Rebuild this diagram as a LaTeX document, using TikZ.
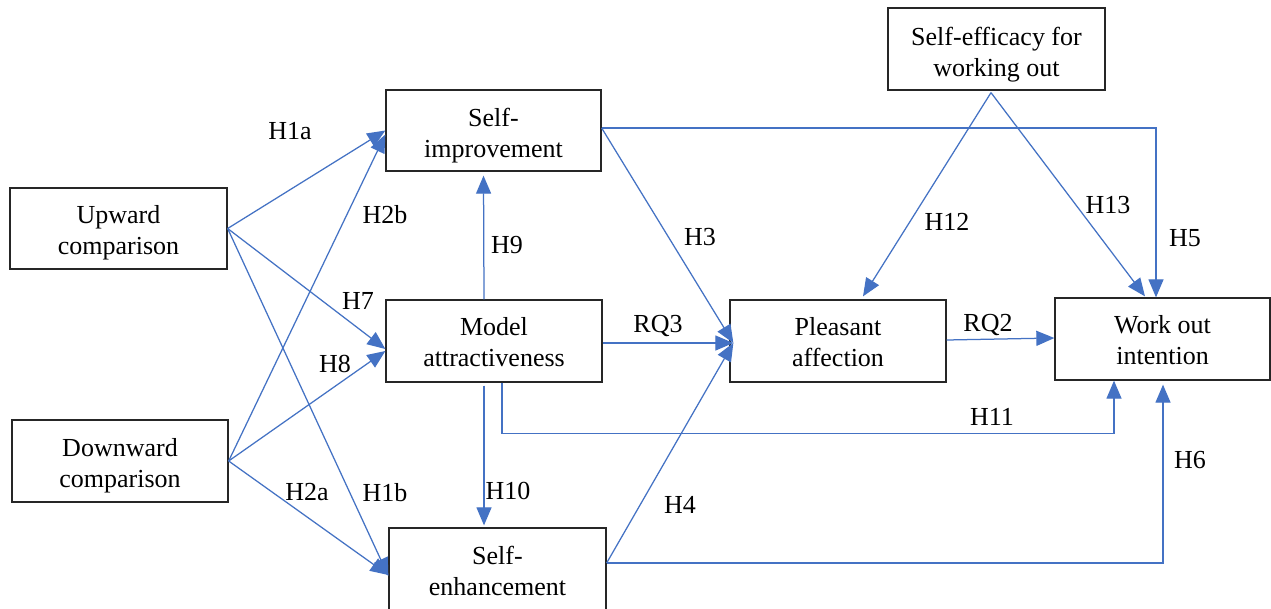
\documentclass[tikz,border=0pt]{standalone}
\usepackage{fontspec}
\setmainfont{Liberation Serif}
\usetikzlibrary{arrows.meta}
\definecolor{lnblue}{RGB}{68,114,196}
\tikzset{
  box/.style={draw=black!85, line width=1.3pt, rectangle, inner sep=0pt},
  txt/.style={inner sep=0pt, align=center, font=\fontsize{26}{31}\selectfont},
  conn/.style={draw=lnblue, line width=1.25pt, -{Triangle[length=18pt,width=15pt]}},
  lab/.style={inner sep=0pt, font=\fontsize{26}{31}\selectfont}
}
\begin{document}
\begin{tikzpicture}[x=1pt,y=-1pt]
\clip (0,0) rectangle (1271,608);
\fill[white] (0,0) rectangle (1271,608);
% boxes
\node[box, minimum width=217pt, minimum height=81pt] (up) at (118.5,228.5) {};
\node[box, minimum width=216pt, minimum height=82pt] (down) at (120,461) {};
\node[box, minimum width=215pt, minimum height=81pt] (imp) at (493.5,130.5) {};
\node[box, minimum width=216pt, minimum height=82pt] (model) at (494,341) {};
\node[box, minimum width=217pt, minimum height=84pt] (enh) at (497.5,570) {};
\node[box, minimum width=216pt, minimum height=82pt] (pleas) at (838,341) {};
\node[box, minimum width=215pt, minimum height=82pt] (work) at (1162.5,339) {};
\node[box, minimum width=217pt, minimum height=82pt] (eff) at (996.5,49) {};
% box texts
\node[txt] (upt) at ([yshift=-4.5pt]up.center) {Upward\\comparison};
\node[txt] (downt) at ([yshift=-4.5pt]down.center) {Downward\\comparison};
\node[txt] (impt) at ([yshift=-5pt]imp.center) {Self-\\improvement};
\node[txt] (modelt) at ([yshift=-1.5pt]model.center) {Model\\attractiveness};
\node[txt] (enht) at ([yshift=-1pt]enh.center) {Self-\\enhancement};
\node[txt] (pleast) at ([yshift=-1pt]pleas.center) {Pleasant\\affection};
\node[txt] (workt) at ([yshift=-1.5pt]work.center) {Work out\\intention};
\node[txt] (efft) at ([yshift=-6pt]eff.center) {Self-efficacy for\\working out};
% left-side connectors
\draw[conn] (up.east) -- (imp.west);
\draw[conn] (up.east) -- ([yshift=-8pt]model.west);
\draw[conn] (up.east) -- ([yshift=-6pt]enh.west);
\draw[conn] (down.east) -- ([yshift=-4pt]imp.west);
\draw[conn] (down.east) -- ([yshift=-10pt]model.west);
\draw[conn] (down.east) -- ([yshift=-5pt]enh.west);
% vertical
\draw[conn] ([xshift=-10pt]model.north) -- ([xshift=-10pt,yshift=-4pt]imp.south);
\draw[conn] ([xshift=-10pt,yshift=-3pt]model.south) -- ([xshift=-10pt,yshift=2pt]model.south |- enh.north);
% middle
\draw[conn] ([yshift=-2pt]model.east) -- ([xshift=4pt,yshift=-2pt]pleas.west);
\draw[conn] ([yshift=2.5pt]imp.east) -- ([xshift=4pt,yshift=-2pt]pleas.west);
\draw[conn] ([yshift=7pt]enh.east) -- ([xshift=4pt,yshift=-2pt]pleas.west);
\draw[conn] ([yshift=1pt]pleas.east) -- ([yshift=1pt]work.west);
% long routes
\draw[conn] ([yshift=2.5pt]imp.east) -| ([xshift=-6.5pt]work.north);
\draw[conn] ([yshift=7pt]enh.east) -| ([xshift=0.5pt,yshift=-4pt]work.south);
\draw[conn] ([xshift=8pt]model.south) -- ++(0,-51pt) -| ([xshift=-48.5pt]work.south);
% self-efficacy
\draw[conn] ([xshift=-5.5pt,yshift=-2pt]eff.south) -- ([xshift=25pt,yshift=3pt]pleas.north);
\draw[conn] ([xshift=-5.5pt,yshift=-2pt]eff.south) -- ([xshift=-17.5pt,yshift=1pt]work.north);
% labels
\node[lab] (l1a) at (290,131) {H1a};
\node[lab] (l2b) at (385,215) {H2b};
\node[lab] (l9) at (507,245) {H9};
\node[lab] (l7) at (358,301) {H7};
\node[lab] (l8) at (335,364) {H8};
\node[lab] (l2a) at (307,492) {H2a};
\node[lab] (l1b) at (385,493) {H1b};
\node[lab] (l10) at (508,491) {H10};
\node[lab] (l4) at (680,505) {H4};
\node[lab] (l3) at (700,237) {H3};
\node[lab] (lrq3) at (658,326) {RQ3};
\node[lab] (lrq2) at (988,325) {RQ2};
\node[lab] (l12) at (947,222) {H12};
\node[lab] (l13) at (1108,205) {H13};
\node[lab] (l5) at (1185,238) {H5};
\node[lab] (l11) at (992,417) {H11};
\node[lab] (l6) at (1190,460) {H6};
\end{tikzpicture}
\end{document}
